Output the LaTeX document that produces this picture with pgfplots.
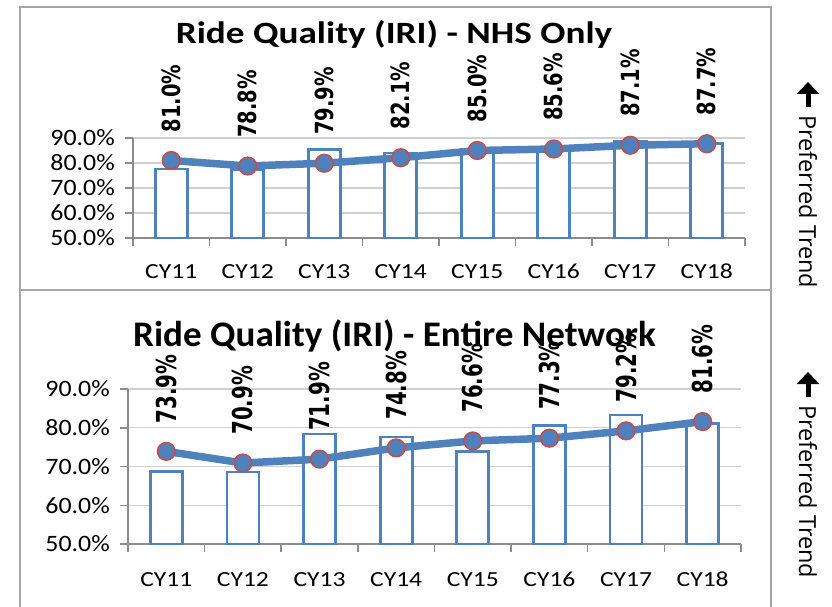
\documentclass[border=0pt]{standalone}
\usepackage{pgfplots}
\pgfplotsset{compat=1.18}
\usepackage{fontspec}
\usetikzlibrary{arrows.meta}
\setmainfont{Carlito}
\newfontfamily\tickfont[FakeStretch=1.1]{Carlito}
\newfontfamily\cyfont[FakeStretch=1.19]{Carlito}
\newfontfamily\titlefontA[FakeStretch=1.2]{Carlito}
\newfontfamily\titlefontB[FakeStretch=1.03]{Carlito}
\newfontfamily\lblA[FakeStretch=0.78]{DejaVu Sans}
\newfontfamily\lblB[FakeStretch=0.72]{DejaVu Sans}
\newfontfamily\sidefont{Open Sans}
\definecolor{cblue}{HTML}{4F81BD}
\definecolor{cred}{HTML}{C0504D}
\definecolor{cgrid}{HTML}{D0D0D0}
\definecolor{caxis}{HTML}{8C8C8C}
\definecolor{cframe}{HTML}{A6A6A6}
\pgfplotsset{
  panel/.style={
    scale only axis,
    xmin=0.5, xmax=8.5, ymin=50, ymax=90,
    ytick={50,60,70,80,90},
    xtick={1,2,3,4,5,6,7,8},
    xticklabels={CY11,CY12,CY13,CY14,CY15,CY16,CY17,CY18},
    minor xtick={0.5,1.5,2.5,3.5,4.5,5.5,6.5,7.5,8.5},
    axis x line*=bottom, axis y line*=left,
    axis line style={caxis, line width=2pt},
    tick align=outside,
    major tick length=8pt, minor tick length=8pt,
    major x tick style={draw=none},
    minor x tick style={caxis, line width=1.5pt},
    y tick style={caxis, line width=1.5pt},
    ymajorgrids, grid style={cgrid, line width=1.2pt},
    /pgf/number format/assume math mode=true,
    yticklabel={\pgfmathprintnumber[fixed,fixed zerofill,precision=1]{\tick}\%},
    yticklabel style={anchor=east, inner sep=0pt, xshift=-10pt, font=\tickfont\fontsize{23.5}{23.5}\selectfont},
    xticklabel style={anchor=base, inner sep=0pt, font=\cyfont\fontsize{21.5}{21.5}\selectfont},
  },
  bars/.style={ybar, bar width=32pt, bar shift=0pt, draw=cblue, fill=white, line width=2.8pt},
  trend/.style={cblue, line width=7.5pt, line join=round, mark=*, mark size=8.8pt,
    mark options={fill=cblue, draw=cred, line width=1.6pt},
    nodes near coords={\pgfmathprintnumber[fixed,fixed zerofill,precision=1]{\pgfplotspointmeta}\%}},
}
\begin{document}
\begin{tikzpicture}[x=1pt,y=1pt]
\path[use as bounding box] (0,0) rectangle (832,606);
% frames
\draw[cframe, line width=1.5pt] (20,599) rectangle (771,316);
\draw[cframe, line width=1.5pt] (20,316) -- (20,-5) (771,316) -- (771,-5);
% top panel
\begin{axis}[panel, at={(133pt,368pt)}, anchor=south west, width=612pt, height=100pt,
  xticklabel style={yshift=-32pt}]
\addplot[bars] coordinates {(1,77.6) (2,77.5) (3,85.3) (4,84.0) (5,85.3) (6,86.0) (7,88.6) (8,87.8)};
\addplot[trend, every node near coord/.style={font=\lblA\bfseries\fontsize{25}{25}\selectfont, black, yshift=27.5pt, rotate=90, anchor=west, inner sep=0pt}]
  coordinates {(1,81.0) (2,78.8) (3,79.9) (4,82.1) (5,85.0) (6,85.6) (7,87.1) (8,87.7)};
\end{axis}
% bottom panel
\begin{axis}[panel, at={(128pt,62pt)}, anchor=south west, width=613pt, height=155pt,
  xticklabel style={yshift=-34pt}]
\addplot[bars] coordinates {(1,68.7) (2,68.6) (3,78.4) (4,77.6) (5,73.8) (6,80.5) (7,83.3) (8,81.0)};
\addplot[trend, every node near coord/.style={font=\lblB\bfseries\fontsize{27.5}{27.5}\selectfont, black, yshift=27.5pt, rotate=90, anchor=west, inner sep=0pt}]
  coordinates {(1,73.9) (2,70.9) (3,71.9) (4,74.8) (5,76.6) (6,77.3) (7,79.2) (8,81.6)};
\end{axis}
% titles
\node[anchor=base, inner sep=0pt, font=\titlefontA\bfseries\fontsize{31}{31}\selectfont] at (394,562.7) {Ride Quality (IRI) - NHS Only};
\node[anchor=base, inner sep=0pt, font=\titlefontB\bfseries\fontsize{36}{36}\selectfont] at (394.5,259.3) {Ride Quality (IRI) - Entire Network};
% preferred trend
\draw[black, line width=5pt, -{Triangle[width=22pt,length=12pt]}] (808,499) -- (808,524);
\node[rotate=-90, anchor=west, inner sep=0pt, font=\sidefont\fontsize{23.5}{23.5}\selectfont] at (808,491) {Preferred Trend};
\draw[black, line width=5pt, -{Triangle[width=22pt,length=12pt]}] (808,209) -- (808,234);
\node[rotate=-90, anchor=west, inner sep=0pt, font=\sidefont\fontsize{23.5}{23.5}\selectfont] at (808,201) {Preferred Trend};
\end{tikzpicture}
\end{document}
